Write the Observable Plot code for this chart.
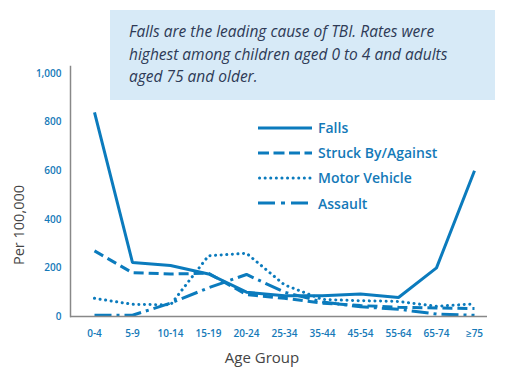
<!DOCTYPE html>
<html>
<head>
<meta charset="utf-8">
<script src="https://cdn.jsdelivr.net/npm/d3@7"></script>
<script src="https://cdn.jsdelivr.net/npm/@observablehq/plot@0.6"></script>
<style>
  body { margin: 0; background: #fff; }
  #wrap { position: relative; width: 519px; height: 379px; overflow: hidden; font-family: "Open Sans", sans-serif; }
  #note { position: absolute; left: 110px; top: 10px; width: 385px; height: 90px; background: #d7eaf7;
    box-sizing: border-box; padding: 10px 0 0 19px; font-style: italic; font-size: 15.5px; line-height: 22.5px; color: #2e3a56; white-space: nowrap; }
  #legend { position: absolute; left: 258px; top: 115px; }
  .row { display: flex; align-items: center; height: 25.2px; }
  .row span { margin-left: 5px; font-size: 14px; font-weight: 600; color: #1479b8; }
  #plot { position: absolute; left: 0; top: 0; }
  .title { position: absolute; font-size: 14.5px; font-weight: 500; color: #444; white-space: nowrap; }
  #ytitle { left: 18px; top: 225px; transform: translate(-50%, -50%) rotate(-90deg); }
  #xtitle { left: 262px; top: 357px; transform: translate(-50%, -50%); font-size: 15px; }
</style>
</head>
<body>
<div id="wrap">
  <div id="plot"></div>
  <div id="note">Falls are the leading cause of TBI. Rates were<br>highest among children aged 0 to 4 and adults<br>aged 75 and older.</div>
  <div id="legend"></div>
  <div class="title" id="ytitle">Per 100,000</div>
  <div class="title" id="xtitle">Age Group</div>
</div>
<script>
const ageGroups = ["0-4","5-9","10-14","15-19","20-24","25-34","35-44","45-54","55-64","65-74","≥75"];
const falls        = [840, 222, 210, 175, 100, 85, 85, 93, 78, 200, 600];
const struckBy     = [270, 180, 175, 178, 90, 75, 55, 45, 38, 35, 33];
const motorVehicle = [75, 50, 48, 250, 260, 130, 70, 65, 62, 42, 52];
const assault      = [5, 5, 55, 118, 173, 100, 60, 40, 30, 10, 5];
const seriesNames  = ["Falls","Struck By/Against","Motor Vehicle","Assault"];
const yTicks = [0, 200, 400, 600, 800, 1000];

const color = "#0b7bbd";
const dashes = {"Falls": null, "Struck By/Against": "10,5", "Motor Vehicle": "0.1,5.5", "Assault": "17,5,3,5"};
const caps = {"Falls": "butt", "Struck By/Against": "butt", "Motor Vehicle": "round", "Assault": "butt"};
const seriesValues = [falls, struckBy, motorVehicle, assault];

const data = [];
seriesNames.forEach((s, i) => ageGroups.forEach((g, j) => data.push({series: s, age: g, value: seriesValues[i][j]})));

const lineMarks = seriesNames.map(s => Plot.line(data.filter(d => d.series === s), {
  x: "age", y: "value", stroke: color, strokeWidth: 3,
  strokeDasharray: dashes[s], strokeLinecap: caps[s], strokeLinejoin: "miter"
}));

const chart = Plot.plot({
  width: 519, height: 379,
  marginLeft: 70, marginRight: 32, marginTop: 66, marginBottom: 63,
  style: {fontFamily: "Open Sans, sans-serif", background: "transparent"},
  x: {type: "point", domain: ageGroups, padding: 0, insetLeft: 21, insetRight: 10, label: null},
  y: {domain: [0, 1000], insetTop: 7, label: null},
  marks: [
    ...lineMarks.slice().reverse(),
    Plot.ruleY([0], {stroke: "#888", strokeWidth: 1.5}),
    Plot.frame({anchor: "left", stroke: "#888", strokeWidth: 1.5}),
    Plot.axisY({ticks: yTicks, tickSize: 0, tickPadding: 9, tickFormat: d3.format(","), fill: "#1479b8", fontSize: 10, fontWeight: 600, label: null}),
    Plot.axisX({tickSize: 0, tickPadding: 13, fill: "#1479b8", fontSize: 10, fontWeight: 600, label: null})
  ]
});
document.getElementById("plot").appendChild(chart);

const legend = document.getElementById("legend");
seriesNames.forEach(s => {
  const row = document.createElement("div");
  row.className = "row";
  const svg = `<svg width="55" height="6"><line x1="${s==='Motor Vehicle'?1.5:0}" x2="54" y1="3" y2="3" stroke="${color}" stroke-width="3" ${dashes[s] ? `stroke-dasharray="${s==='Struck By/Against' ? '11,4.5' : s==='Assault' ? '17,6,4,6' : dashes[s]}"` : ""} stroke-linecap="${caps[s]}"/></svg>`;
  row.innerHTML = svg + `<span>${s}</span>`;
  legend.appendChild(row);
});
</script>
</body>
</html>
